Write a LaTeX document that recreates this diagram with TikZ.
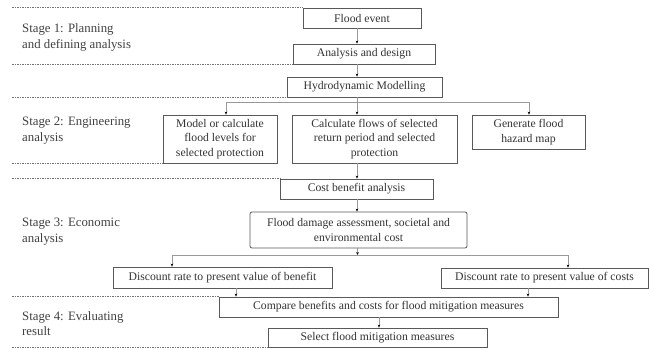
\documentclass[tikz,border=0pt]{standalone}
\usepackage{fontspec}
\setmainfont{Liberation Serif}
\usetikzlibrary{arrows.meta}
\tikzset{
  stepbox/.style={draw=black!65, line width=0.8pt, align=center, inner sep=0pt,
    text=black!80, font=\fontsize{11.7}{14.5}\selectfont},
  stagetext/.style={anchor=west, align=left, inner sep=0pt, text=black!75,
    font=\fontsize{12.8}{15.5}\selectfont},
  stageline/.style={black!55, line width=0.6pt, dash pattern=on 1.5pt off 1pt},
  link/.style={black!40, line width=0.5pt},
  flow/.style={link, -{Stealth[length=3pt, width=2.6pt, black]}},
}
\begin{document}
\begin{tikzpicture}[x=1pt, y=-1pt] % {{{
\useasboundingbox (0,0) rectangle (649,349);
\coordinate (lft) at (12,0);
\coordinate (spine) at (357,0);
% Stages   {{{
\node[stagetext] (st1) at (22,37.5) {Stage 1: Planning\\and defining analysis};
\node[stagetext] (st2) at (22,130.5) {Stage 2: Engineering\\analysis};
\node[stagetext] (st3) at (22,231.5) {Stage 3: Economic\\analysis};
\node[stagetext] (st4) at (22,323.5) {Stage 4: Evaluating\\result};
% }}}
% Boxes   {{{
\node[stepbox, minimum width=118, minimum height=20] (flood) at (362,18) {Flood event};
\node[stepbox, minimum width=142, minimum height=20] (analysis) at (364,54) {Analysis and design};
\node[stepbox, minimum width=155, minimum height=20] (hydro) at (364.5,87) {Hydrodynamic Modelling};
\node[stepbox, minimum width=114, minimum height=48] (model) at (220,139)
  {Model or calculate\\flood levels for\\selected protection};
\node[stepbox, minimum width=165, minimum height=48] (calc) at (374.5,139)
  {Calculate flows of selected\\return period and selected\\protection};
\node[stepbox, minimum width=113, minimum height=34] (generate) at (528.5,132)
  {Generate flood\\hazard map};
\node[stepbox, minimum width=153, minimum height=20] (cost) at (356.5,189) {Cost benefit analysis};
\node[stepbox, rounded corners=2pt, minimum width=217, minimum height=36] (damage) at (358.5,230)
  {Flood damage assessment, societal and\\environmental cost};
\node[stepbox, minimum width=219, minimum height=21] (discb) at (222.5,277.5)
  {Discount rate to present value of benefit};
\node[stepbox, minimum width=207, minimum height=20] (discc) at (544.5,278)
  {Discount rate to present value of costs};
\node[stepbox, minimum width=339, minimum height=20] (compare) at (388.5,307)
  {Compare benefits and costs for flood mitigation measures};
\node[stepbox, minimum width=219, minimum height=19] (select) at (377.5,337.5)
  {Select flood mitigation measures};
% }}}
% Stage separators   {{{
\draw[stageline] (lft |- flood.north west) -- (flood.north west);
\draw[stageline] (lft |- analysis.south west) -- (analysis.south west);
\draw[stageline] (lft |- hydro.south west) -- (hydro.south west);
\draw[stageline] (lft |- model.south west) -- (model.south west);
\draw[stageline] (lft |- cost.north west) -- (cost.north west);
\draw[stageline] (lft |- compare.north west) -- (compare.north west);
\draw[stageline] (lft |- select.south west) -- (select.south west);
% }}}
% Connectors   {{{
\draw[flow] (flood.south -| spine) -- (analysis.north -| spine);
\draw[flow] (analysis.south -| spine) -- (hydro.north -| spine);
\coordinate (hjoin) at (357,102);
\coordinate (mbr) at (226,102);
\coordinate (gbr) at (529,102);
\draw[link] (hydro.south -| spine) -- (hjoin);
\draw[link] (mbr) -- (gbr);
\draw[flow] (mbr) -- (model.north -| mbr);
\draw[flow] (hjoin) -- (calc.north -| hjoin);
\draw[flow] (gbr) -- (generate.north -| gbr);
\draw[flow] (calc.south -| spine) -- (cost.north -| spine);
\draw[flow] (cost.south -| spine) -- (damage.north -| spine);
\coordinate (djoin) at (357.5,255);
\coordinate (bbr) at (172,255);
\coordinate (cbr) at (568,255);
\draw[flow] (damage.south -| djoin) -- (djoin);
\draw[link] (bbr) -- (cbr);
\draw[flow] (bbr) -- (discb.north -| bbr);
\draw[flow] (cbr) -- (discc.north -| cbr);
\coordinate (bdrop) at (236,0);
\coordinate (cdrop) at (528,0);
\coordinate (sdrop) at (379,0);
\draw[flow] (discb.south -| bdrop) -- (compare.north -| bdrop);
\draw[flow] (discc.south -| cdrop) -- (compare.north -| cdrop);
\draw[flow] (compare.south -| sdrop) -- (select.north -| sdrop);
% }}}
\end{tikzpicture} % }}}
\end{document}
